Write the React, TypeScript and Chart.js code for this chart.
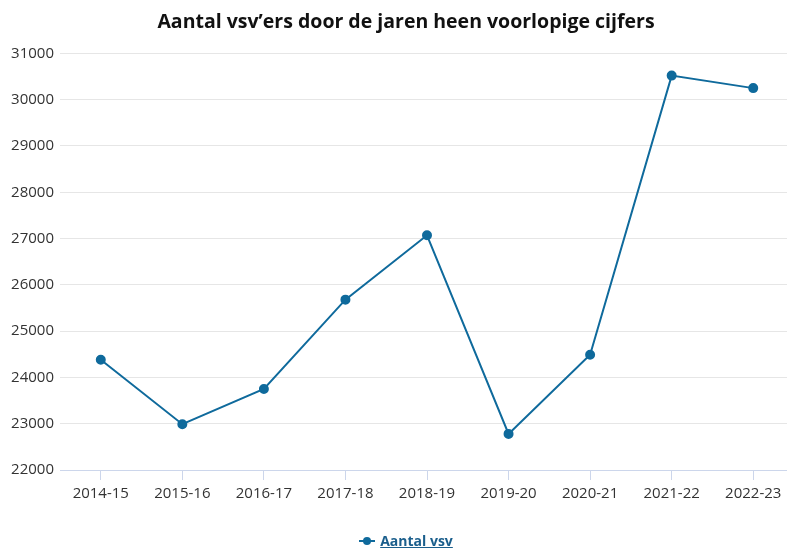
import React, { useEffect, useRef } from "react";
import { Chart, registerables } from "chart.js";

Chart.register(...registerables);

const categories = ["2014-15", "2015-16", "2016-17", "2017-18", "2018-19", "2019-20", "2020-21", "2021-22", "2022-23"];
const aantalVsv = [24380, 22990, 23750, 25680, 27070, 22780, 24490, 30520, 30250];
const yTicks = [22000, 23000, 24000, 25000, 26000, 27000, 28000, 29000, 30000, 31000];
const titleText = "Aantal vsv’ers door de jaren heen voorlopige cijfers";
const seriesName = "Aantal vsv";

const LINE = "#0f6a9c";
const FONT = "'Open Sans', sans-serif";
const CANVAS_W = 812;

const titleCenterPlugin = {
  id: "titleCenter",
  afterLayout(chart: any) {
    if (chart.titleBlock) {
      chart.titleBlock.left = 0;
      chart.titleBlock.right = chart.width;
    }
  },
};

export default function App() {
  const ref = useRef<HTMLCanvasElement | null>(null);

  useEffect(() => {
    const canvas = ref.current;
    if (!canvas) return;
    const chart = new Chart(canvas, {
      type: "line",
      data: {
        labels: categories,
        datasets: [
          {
            label: seriesName,
            data: aantalVsv,
            borderColor: LINE,
            backgroundColor: LINE,
            borderWidth: 2,
            pointRadius: 4,
            pointHoverRadius: 4,
            pointBackgroundColor: LINE,
            pointBorderColor: LINE,
            tension: 0,
          },
        ],
      },
      plugins: [titleCenterPlugin],
      options: {
        responsive: false,
        animation: false,
        devicePixelRatio: 1,
        layout: { padding: { left: 0, right: 18, top: 0, bottom: 0 } },
        plugins: {
          legend: { display: false },
          tooltip: { enabled: false },
          title: {
            display: true,
            text: titleText,
            color: "#111111",
            font: { family: FONT, size: 19.5, weight: "bold" },
            padding: { top: 11, bottom: 19 },
          },
        },
        scales: {
          x: {
            type: "category",
            offset: true,
            grid: {
              offset: false,
              drawOnChartArea: false,
              drawTicks: true,
              tickLength: 10,
              color: "#ccd6eb",
            },
            border: { display: true, color: "#ccd6eb" },
            ticks: {
              color: "#333333",
              font: { family: FONT, size: 15 },
              padding: 5,
              maxRotation: 0,
              autoSkip: false,
            },
            afterFit: (scale: any) => {
              scale.height = 81;
            },
          },
          y: {
            min: 22000,
            max: 31000,
            afterBuildTicks: (scale: any) => {
              scale.ticks = yTicks.map((v) => ({ value: v }));
            },
            grid: { color: "#e6e6e6", drawTicks: false, lineWidth: 1 },
            border: { display: false },
            ticks: {
              color: "#333333",
              font: { family: FONT, size: 15 },
              padding: 6,
              callback: (v: any) => String(v),
            },
            afterFit: (scale: any) => {
              scale.width = 60;
            },
          },
        },
      },
    });
    return () => chart.destroy();
  }, []);

  return (
    <div
      style={{
        position: "fixed",
        left: 0,
        top: 0,
        width: 787,
        height: 551,
        overflow: "hidden",
        background: "#ffffff",
      }}
    >
      <canvas ref={ref} width={CANVAS_W} height={551} style={{ display: "block" }} />
      <div
        style={{
          position: "absolute",
          top: 531,
          left: 0,
          width: CANVAS_W,
          textAlign: "center",
          fontFamily: FONT,
          fontSize: 14,
          fontWeight: "bold",
          lineHeight: "20px",
        }}
      >
        <span style={{ display: "inline-flex", alignItems: "center", gap: 5 }}>
          <span style={{ position: "relative", width: 16, height: 20, display: "inline-block" }}>
            <span
              style={{
                position: "absolute",
                left: 0,
                top: 9,
                width: 16,
                height: 2,
                background: LINE,
              }}
            />
            <span
              style={{
                position: "absolute",
                left: 4,
                top: 6,
                width: 8,
                height: 8,
                borderRadius: 4,
                background: LINE,
              }}
            />
          </span>
          <span style={{ color: "#1a5e8c", textDecoration: "underline" }}>{seriesName}</span>
        </span>
      </div>
    </div>
  );
}
